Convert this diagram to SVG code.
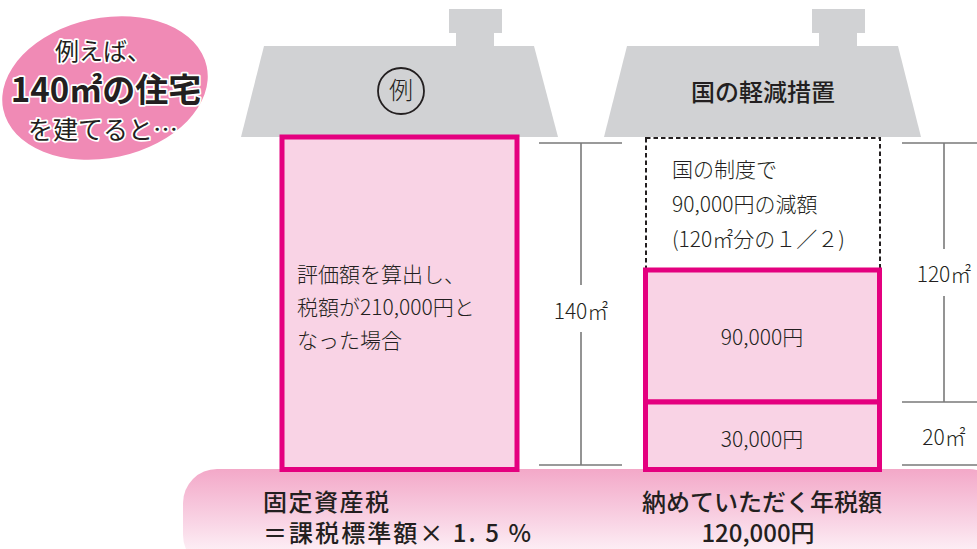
<svg xmlns="http://www.w3.org/2000/svg" width="977" height="549" viewBox="0 0 977 549">
<style>
text{font-family:"Noto Sans CJK JP","Noto Sans",sans-serif;fill:#231f20}
.roof{fill:#d1d2d4}
.box{fill:#f9d3e5;stroke:#e4007f;stroke-width:5}
.dim{stroke:#7a7a7a;stroke-width:1.6;fill:none}
.t21{font-size:21px;font-weight:300}
.t24{font-size:24px;font-weight:500}
.blob{stroke:#ffffff;stroke-width:3.5;paint-order:stroke;stroke-linejoin:round}
</style>
<defs>
<linearGradient id="band" x1="0" y1="0" x2="0" y2="1">
<stop offset="0" stop-color="#f3a8c8"/>
<stop offset="0.55" stop-color="#f9d6e6"/>
<stop offset="1" stop-color="#ffffff"/>
</linearGradient>
</defs>
<g id="bubble">
<ellipse cx="105" cy="88" rx="104" ry="70" transform="rotate(-12 105 88)" fill="#f08ab5"/>
<text class="blob" x="103" y="60" font-size="24" text-anchor="middle">例えば、</text>
<text class="blob" x="106" y="102" font-size="33" font-weight="700" text-anchor="middle">140㎡の住宅</text>
<text class="blob" x="103" y="139" font-size="25" text-anchor="middle">を建てると…</text>
</g>
<g id="band-bottom">
<rect x="183" y="469" width="820" height="100" rx="34" fill="url(#band)"/>
</g>
<g id="house-left">
<rect class="roof" x="449" y="9" width="53" height="24"/>
<rect class="roof" x="456" y="32" width="38" height="15"/>
<polygon class="roof" points="264,46 534,46 558,137 241,137"/>
<circle cx="401" cy="91" r="23" fill="none" stroke="#231f20" stroke-width="1.8"/>
<text x="401" y="99" font-size="24" font-weight="300" text-anchor="middle">例</text>
<rect class="box" x="282" y="137" width="235" height="332.5"/>
<text class="t21" x="297" y="282">評価額を算出し、</text>
<text class="t21" x="297" y="315">税額が210,000円と</text>
<text class="t21" x="297" y="348">なった場合</text>
</g>
<g id="house-right">
<rect class="roof" x="812" y="9" width="53" height="24"/>
<rect class="roof" x="819" y="32" width="38" height="15"/>
<polygon class="roof" points="627,46 898,46 921,137 604,137"/>
<text x="763" y="101" font-size="24" font-weight="500" text-anchor="middle">国の軽減措置</text>
<rect x="646" y="138" width="234" height="132" fill="#ffffff" stroke="#231f20" stroke-width="2" stroke-dasharray="4.5 3"/>
<text class="t21" x="672" y="177">国の制度で</text>
<text class="t21" x="672" y="212">90,000円の減額</text>
<text class="t21" x="672" y="247">(120㎡分の１／２)</text>
<rect class="box" x="645.5" y="270" width="234" height="132"/>
<text class="t21" x="762" y="345" text-anchor="middle">90,000円</text>
<rect class="box" x="645.5" y="402" width="234" height="67.5"/>
<text class="t21" x="762" y="447" text-anchor="middle">30,000円</text>
</g>
<g id="connectors">
<path class="dim" d="M539,143H622M581,143V285M581,332V465M539,465H622"/>
<path class="dim" d="M902,143H977M944,143V249M944,296V402M902,402H977M902,465H977"/>
</g>
<g id="dim-labels">
<text class="t21" x="581" y="319" text-anchor="middle">140㎡</text>
<text class="t21" x="944" y="282" text-anchor="middle">120㎡</text>
<text class="t21" x="944" y="445" text-anchor="middle">20㎡</text>
</g>
<g id="bottom-text">
<text class="t24" x="263" y="511" textLength="126" lengthAdjust="spacing">固定資産税</text>
<text class="t24" x="263" y="542" textLength="268" lengthAdjust="spacing">＝課税標準額× 1. 5 %</text>
<text class="t24" x="762" y="511" text-anchor="middle">納めていただく年税額</text>
<text class="t24" x="758" y="542" text-anchor="middle">120,000円</text>
</g>
</svg>
